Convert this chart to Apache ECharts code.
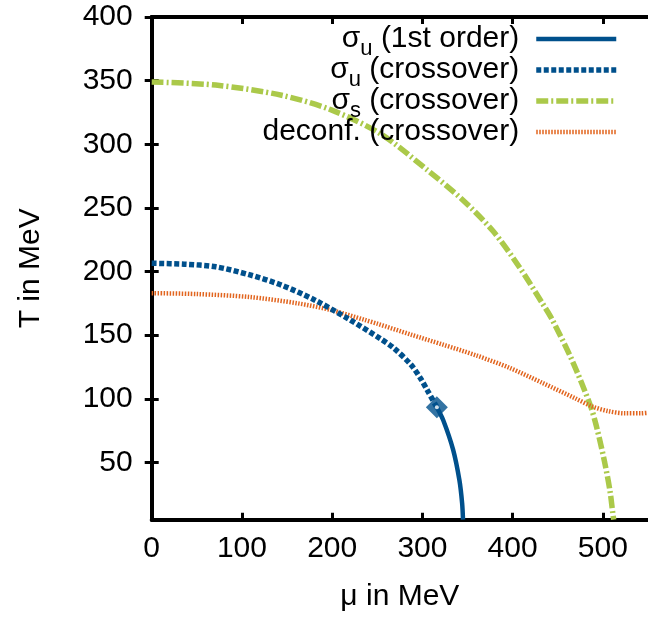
<!DOCTYPE html>
<html>
<head>
<meta charset="utf-8">
<script src="https://cdn.jsdelivr.net/npm/echarts@6/dist/echarts.min.js"></script>
<style>
html,body{margin:0;padding:0;background:#fff;}
#chart{width:648px;height:617px;}
</style>
</head>
<body>
<div id="chart"></div>
<script>
// ---- data ----
const xTicks = [0, 100, 200, 300, 400, 500];
const yTicks = [50, 100, 150, 200, 250, 300, 350, 400];

const sigmaU1st = [[316, 93.3], [323, 83.3], [334, 60], [341, 36], [344, 18], [345, 5]];

const sigmaUCross = [[0, 206.5], [36, 205.8], [71, 203.7], [108, 197.5], [144, 189.3], [181, 177.5],
  [217, 163.2], [254, 147], [268, 140], [287, 127], [298, 116], [306, 106], [316, 93.3]];

const sigmaSCross = [[0, 349], [71, 346.5], [144, 338.5], [199, 327], [254, 308], [305, 280], [345, 256],
  [378, 232], [407, 204], [433, 175], [444, 162], [466, 130], [486, 95], [493, 78], [502, 50],
  [508, 27], [511, 10], [512, 5]];

const deconfCross = [[0, 183], [50, 182.3], [108, 180], [162, 175], [199, 169.7], [236, 162], [250, 159],
  [287, 150.5], [323, 142.5], [360, 134], [396, 124.5], [433, 112.5], [469, 100.5], [488, 94], [506, 90.3],
  [524, 88.6], [542, 88.6], [550, 89]];

const criticalPoint = [[316, 93.3]];

const seriesNames = ['sigmaU1st', 'sigmaUCross', 'sigmaSCross', 'deconfCross'];
const legendLabels = {
  sigmaU1st: '{t|σ}{s|u}{t| (1st order)}',
  sigmaUCross: '{t|σ}{s|u}{t| (crossover)}',
  sigmaSCross: '{t|σ}{s|s}{t| (crossover)}',
  deconfCross: '{s| }{t|deconf. (crossover)}'
};

const BLUE = '#00508c';
const GREEN = '#abc94a';
const ORANGE = '#e2651f';
const FONT = 'Liberation Sans';

const chart = echarts.init(document.getElementById('chart'), null, {renderer: 'canvas'});

const frameLine = {show: true, lineStyle: {color: '#000', width: 4}};
const tickStyle = {inside: true, length: 7, lineStyle: {color: '#000', width: 3}};

chart.setOption({
  animation: false,
  backgroundColor: '#fff',
  textStyle: {fontFamily: FONT},
  grid: {left: 151.7, top: 17, right: -5.7, bottom: 97.3, containLabel: false},
  legend: {
    orient: 'vertical',
    right: 29,
    top: 24,
    align: 'right',
    padding: 0,
    itemGap: -5,
    itemWidth: 80,
    itemHeight: 10,
    data: seriesNames,
    formatter: function (name) { return legendLabels[name]; },
    itemStyle: {opacity: 0},
    lineStyle: {width: 'inherit'},
    textStyle: {
      fontFamily: FONT,
      fontSize: 30,
      color: '#000',
      lineHeight: 30,
      padding: [0, 12, 0, 0],
      rich: {
        t: {fontFamily: FONT, fontSize: 30, lineHeight: 30, height: 30, color: '#000'},
        s: {fontFamily: FONT, fontSize: 22, lineHeight: 10, height: 10, padding: [20, 0, 0, 0], color: '#000'}
      }
    }
  },
  xAxis: [{
    type: 'value', min: 0, max: 550, position: 'bottom',
    axisLine: frameLine,
    axisTick: Object.assign({customValues: xTicks}, tickStyle),
    axisLabel: {customValues: xTicks, fontSize: 30, color: '#000', fontFamily: FONT, margin: 14},
    splitLine: {show: false},
    name: 'μ in MeV', nameLocation: 'middle', nameGap: 62,
    nameTextStyle: {fontSize: 30, color: '#000', fontFamily: FONT}
  }, {
    type: 'value', min: 0, max: 550, position: 'top',
    axisLine: frameLine,
    axisTick: Object.assign({customValues: xTicks}, tickStyle),
    axisLabel: {show: false},
    splitLine: {show: false}
  }],
  yAxis: [{
    type: 'value', min: 5, max: 400, position: 'left',
    axisLine: frameLine,
    axisTick: Object.assign({customValues: yTicks}, tickStyle),
    axisLabel: {customValues: yTicks, fontSize: 30, color: '#000', fontFamily: FONT, margin: 19},
    splitLine: {show: false},
    name: 'T in MeV', nameLocation: 'middle', nameGap: 106,
    nameTextStyle: {fontSize: 30, color: '#000', fontFamily: FONT}
  }, {
    type: 'value', min: 5, max: 400, position: 'right',
    axisLine: frameLine,
    axisTick: Object.assign({customValues: yTicks}, tickStyle),
    axisLabel: {show: false},
    splitLine: {show: false}
  }],
  series: [{
    name: 'sigmaUCross', type: 'line', data: sigmaUCross, symbol: 'none', smooth: 0.3,
    color: BLUE, lineStyle: {color: BLUE, width: 5.5, type: [5, 2.5]}, z: 3
  }, {
    name: 'sigmaSCross', type: 'line', data: sigmaSCross, symbol: 'none', smooth: 0.3,
    color: GREEN, lineStyle: {color: GREEN, width: 5.5, type: [12, 3, 2, 3]}, z: 2
  }, {
    name: 'deconfCross', type: 'line', data: deconfCross, symbol: 'none', smooth: 0.3,
    color: ORANGE, lineStyle: {color: ORANGE, width: 4.5, type: [1.5, 1.5]}, z: 2
  }, {
    name: 'sigmaU1st', type: 'line', data: sigmaU1st, symbol: 'none', smooth: 0.3,
    color: BLUE, lineStyle: {color: BLUE, width: 4.5, type: 'solid'}, z: 4
  }, {
    name: 'critical', type: 'scatter', data: criticalPoint, symbol: 'diamond', symbolSize: 22,
    itemStyle: {color: BLUE}, z: 5, silent: true
  }, {
    name: 'criticalHole', type: 'scatter', data: criticalPoint, symbol: 'circle', symbolSize: 4,
    itemStyle: {color: '#fff'}, z: 6, silent: true
  }]
});
</script>
</body>
</html>
